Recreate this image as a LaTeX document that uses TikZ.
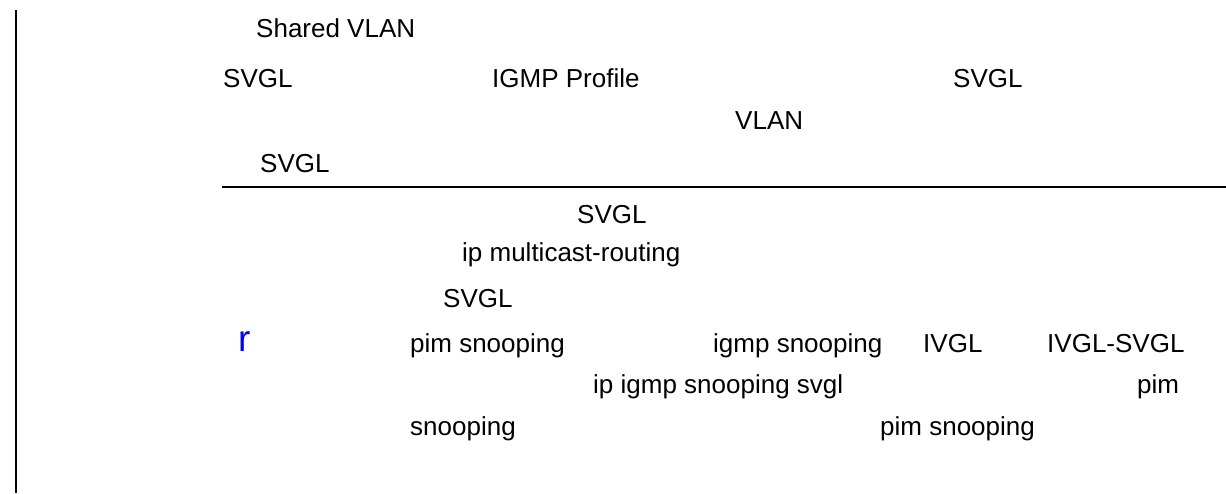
\documentclass[tikz,border=0pt]{standalone}
\usepackage{fontspec}
\setmainfont{Liberation Sans}
\begin{document}
\begin{tikzpicture}[x=1pt, y=-1pt,
    txt/.style={anchor=base west, inner sep=0pt, font=\fontsize{26}{30}\selectfont},
    bluemark/.style={anchor=base west, inner sep=0pt, text=blue, font=\fontsize{37}{40}\selectfont}]
    \useasboundingbox (0,0) rectangle (1226,493);

    % Rules
    \coordinate (top) at (16,10);
    \coordinate (bot) at (16,493);
    \coordinate (hl) at (222,187);
    \coordinate (hr) at (1226,187);
    \draw[line width=2pt] (top) -- (bot);
    \draw[line width=2.2pt] (hl) -- (hr);

    % Upper block
    \node[txt] (shared) at (256,37) {Shared VLAN};
    \node[txt] (svglA) at (223,87) {SVGL};
    \node[txt] (igmp) at (492,87) {IGMP Profile};
    \node[txt] (svglB) at (953,87) {SVGL};
    \node[txt] (vlan) at (735,129) {VLAN};
    \node[txt] (svglC) at (260,172) {SVGL};

    % Lower block
    \node[txt] (svglD) at (577,223) {SVGL};
    \node[txt] (mcast) at (462,261) {ip multicast-routing};
    \node[txt] (svglE) at (443,307) {SVGL};
    \node[bluemark] (rmark) at (238,351) {r};
    \node[txt] (pimA) at (410,352) {pim snooping};
    \node[txt] (igmpsn) at (713,352) {igmp snooping};
    \node[txt] (ivgl) at (923,352) {IVGL};
    \node[txt] (ivglsvgl) at (1047,352) {IVGL-SVGL};
    \node[txt] (ipigmp) at (593,393) {ip igmp snooping svgl};
    \node[txt] (pimB) at (1137,393) {pim};
    \node[txt] (snoopA) at (410,435) {snooping};
    \node[txt] (pimC) at (880,435) {pim snooping};
\end{tikzpicture}
\end{document}
